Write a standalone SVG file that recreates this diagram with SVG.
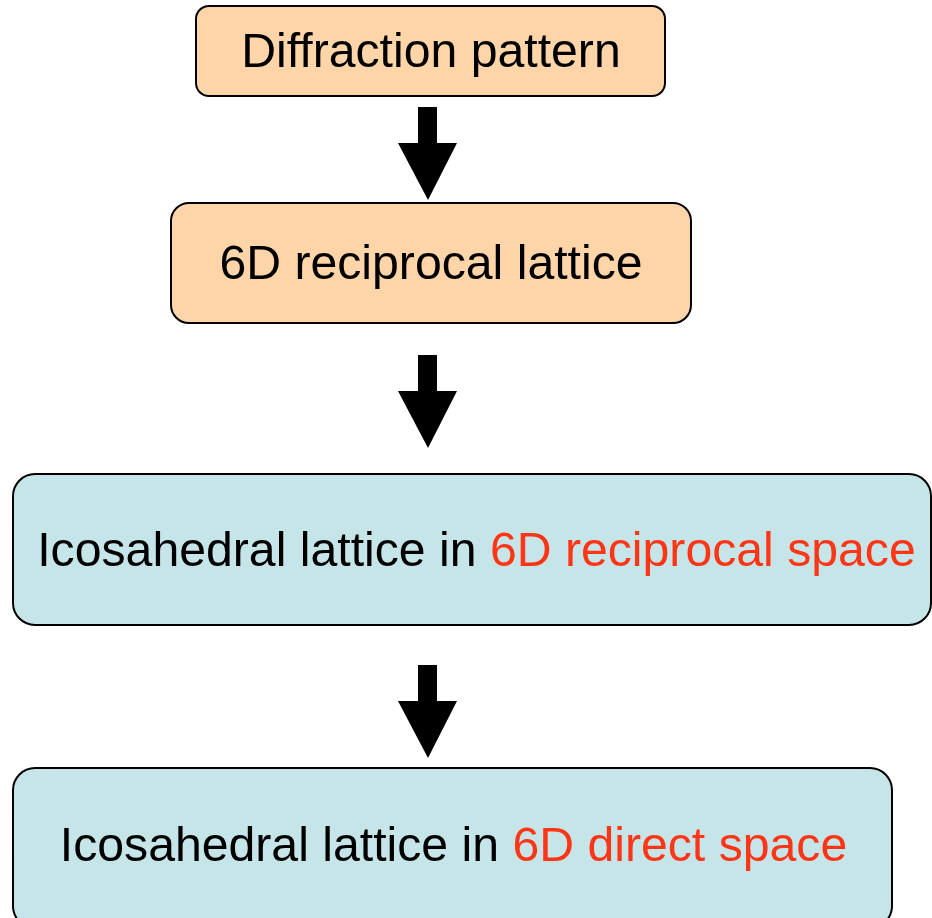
<svg xmlns="http://www.w3.org/2000/svg" width="932" height="918" viewBox="0 0 932 918">
  <style>
    .box { stroke: #000; stroke-width: 2; }
    .peach { fill: #FDD5A8; }
    .blue { fill: #C5E5E8; }
    .label { font-family: "Liberation Sans", Arial, sans-serif; font-size: 48.2px; fill: #000; text-anchor: middle; }
    .hl { fill: #FF3516; }
    .arrow { fill: #000; }
  </style>
  <defs>
    <!-- block arrow pointing down, tip at origin -->
    <path id="blockArrow" d="M -10 -93 H 9 V -57 H 29 L 0 0 L -30 -57 H -10 Z"/>
  </defs>
  <rect width="932" height="918" fill="#fff"/>

  <g id="connectors" class="arrow">
    <use href="#blockArrow" x="428" y="200"/>
    <use href="#blockArrow" x="428" y="448"/>
    <use href="#blockArrow" x="428" y="758"/>
  </g>

  <g id="diffraction-pattern">
    <rect class="box peach" x="196" y="6" width="469" height="90" rx="13"/>
    <text class="label" x="431" y="67">Diffraction pattern</text>
  </g>

  <g id="reciprocal-lattice">
    <rect class="box peach" x="171" y="203" width="520" height="120" rx="18"/>
    <text class="label" x="431" y="279">6D reciprocal lattice</text>
  </g>

  <g id="icosahedral-reciprocal">
    <rect class="box blue" x="13" y="474" width="918" height="151" rx="22"/>
    <text class="label" x="476.5" y="566">Icosahedral lattice in <tspan class="hl">6D reciprocal space</tspan></text>
  </g>

  <g id="icosahedral-direct">
    <rect class="box blue" x="13" y="768" width="879" height="160" rx="22"/>
    <text class="label" x="453.5" y="861">Icosahedral lattice in <tspan class="hl">6D direct space</tspan></text>
  </g>
</svg>
